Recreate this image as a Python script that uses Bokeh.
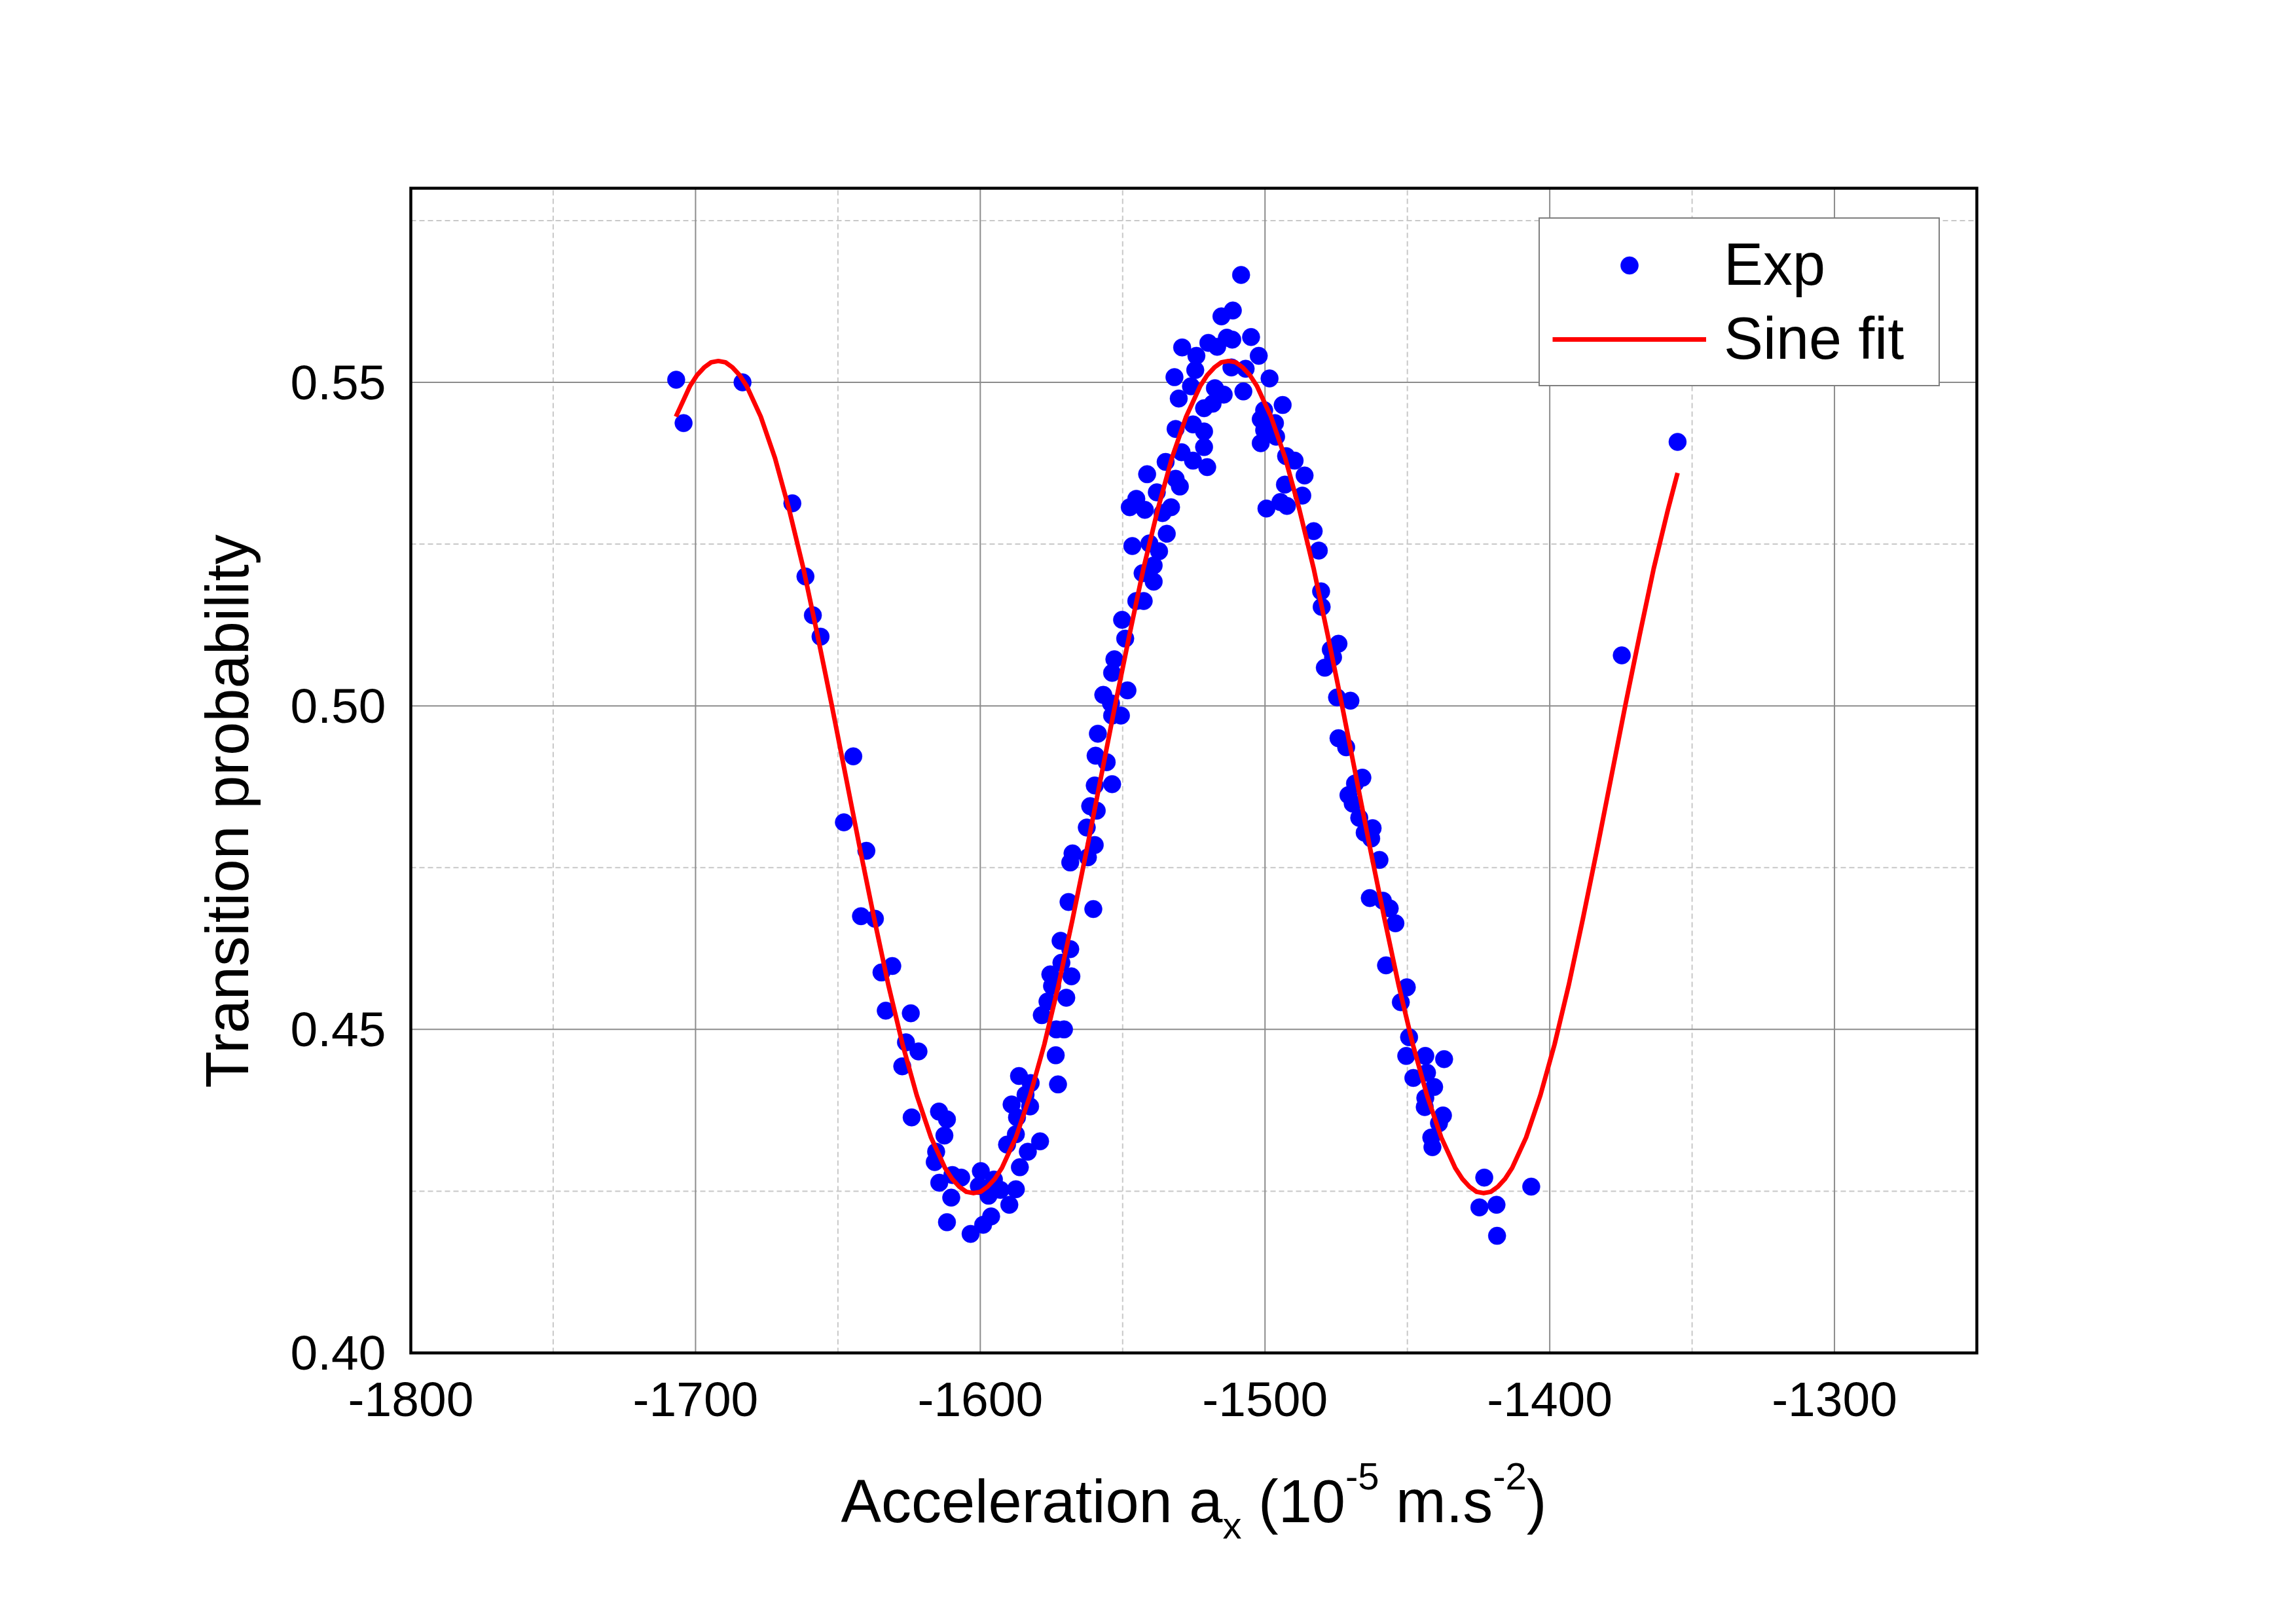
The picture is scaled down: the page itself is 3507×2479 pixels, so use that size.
import math
from bokeh.plotting import figure
from bokeh.models import Range1d, FixedTicker, Label
from bokeh.embed import file_html
from bokeh.resources import INLINE

# ---------------- data ----------------
exp_x = [
    -1706.8, -1704.2, -1683.5, -1666.0, -1661.4, -1658.8, -1656.1, -1644.6, -1647.9, -1640.0,
    -1641.9, -1637.0, -1634.7, -1630.9, -1633.2, -1624.4, -1626.1, -1621.7, -1627.4, -1624.1,
    -1614.5, -1611.7, -1612.6, -1615.5, -1616.0, -1609.8, -1606.7, -1614.4, -1610.2, -1611.7,
    -1603.4, -1599.0, -1596.2, -1599.8, -1600.5, -1597.1, -1595.2, -1592.9, -1589.8, -1587.5,
    -1586.1, -1583.3, -1579.0, -1590.6, -1587.5, -1587.1, -1589.0, -1582.5, -1584.1, -1586.4,
    -1582.3, -1573.5, -1572.7, -1573.3, -1570.6, -1578.4, -1576.4, -1569.8, -1575.4, -1574.8,
    -1568.0, -1571.5, -1568.4, -1571.8, -1569.0, -1568.4, -1567.6, -1562.6, -1560.3, -1562.2,
    -1559.8, -1559.1, -1561.4, -1559.8, -1553.7, -1559.5, -1555.6, -1558.7, -1553.7, -1550.6,
    -1556.8, -1548.3, -1554.1, -1553.7, -1552.9, -1549.1, -1550.2, -1545.2, -1542.6, -1543.0,
    -1539.1, -1539.1, -1546.6, -1540.6, -1537.2, -1534.5, -1547.5, -1545.2, -1542.2, -1538.0,
    -1536.0, -1533.0, -1541.4, -1534.9, -1531.4, -1529.9, -1529.3, -1531.4, -1525.3, -1521.4,
    -1521.4, -1525.3, -1520.3,
    -1508.4, -1511.3, -1515.3, -1529.1, -1519.9, -1513.4, -1511.5, -1504.9, -1502.2, -1524.1,
    -1516.8, -1524.5, -1511.8, -1506.8, -1531.8, -1498.4, -1526.0, -1517.6, -1514.5, -1507.6,
    -1530.3, -1518.4, -1521.4, -1493.8, -1500.3,
    -1501.5, -1496.5, -1500.3, -1496.1, -1501.5, -1492.6, -1489.6, -1486.1, -1493.0, -1486.9,
    -1494.6, -1492.3, -1499.5,
    -1482.9, -1481.1, -1480.3, -1480.1, -1474.2, -1476.9, -1476.1, -1479.0, -1474.7, -1470.0,
    -1474.2, -1471.5, -1465.8, -1468.4, -1470.7, -1469.2, -1466.9, -1462.2, -1465.0, -1462.7,
    -1459.8,
    -1463.2, -1458.6, -1456.2, -1454.2, -1457.5, -1450.2, -1452.3, -1449.4, -1450.4, -1443.7,
    -1437.1, -1443.1, -1447.9, -1440.6, -1443.7, -1443.9, -1437.5, -1438.9, -1441.6, -1441.2,
    -1423.0,
    -1424.7, -1418.7, -1418.5, -1406.5,
    -1355.1, -1374.7,
]
exp_y = [
    0.5504, 0.5437, 0.5500, 0.5313, 0.5200, 0.5140, 0.5107, 0.4922, 0.4820, 0.4776,
    0.4675, 0.4671, 0.4588, 0.4598, 0.4529, 0.4525, 0.4480, 0.4466, 0.4443, 0.4364,
    0.4373, 0.4361, 0.4336, 0.4311, 0.4295, 0.4275, 0.4271, 0.4263, 0.4240, 0.4202,
    0.4184, 0.4198, 0.4211, 0.4281, 0.4258, 0.4243, 0.4268, 0.4252, 0.4229, 0.4253,
    0.4287, 0.4311, 0.4327, 0.4322, 0.4338, 0.4364, 0.4384, 0.4381, 0.4399, 0.4428,
    0.4417, 0.4460, 0.4415, 0.4500, 0.4500, 0.4522, 0.4543, 0.4549, 0.4585, 0.4567,
    0.4582, 0.4603, 0.4624, 0.4637, 0.4697, 0.4758, 0.4772, 0.4812, 0.4686, 0.4766,
    0.4785, 0.4838, 0.4845, 0.4877, 0.4879, 0.4923, 0.4913, 0.4957, 0.4985, 0.4985,
    0.5017, 0.5024, 0.5004, 0.5051, 0.5072, 0.5104, 0.5133, 0.5162, 0.5162, 0.5205,
    0.5192, 0.5217, 0.5247, 0.5251, 0.5239, 0.5266, 0.5307, 0.5320, 0.5303, 0.5330,
    0.5298, 0.5307, 0.5358, 0.5377, 0.5351, 0.5339, 0.5392, 0.5428, 0.5435, 0.5424,
    0.5400, 0.5379, 0.5369,
    0.5666, 0.5611, 0.5602, 0.5554, 0.5561, 0.5569, 0.5566, 0.5570, 0.5541, 0.5541,
    0.5555, 0.5519, 0.5523, 0.5521, 0.5508, 0.5506, 0.5494, 0.5491, 0.5481, 0.5486,
    0.5475, 0.5467, 0.5460, 0.5465, 0.5457,
    0.5443, 0.5437, 0.5426, 0.5416, 0.5406, 0.5386, 0.5379, 0.5356, 0.5342, 0.5325,
    0.5315, 0.5309, 0.5305,
    0.5270, 0.5240, 0.5177, 0.5153, 0.5096, 0.5087, 0.5075, 0.5059, 0.5013, 0.5008,
    0.4950, 0.4936, 0.4889, 0.4880, 0.4862, 0.4849, 0.4827, 0.4811, 0.4804, 0.4795,
    0.4762,
    0.4703, 0.4699, 0.4687, 0.4664, 0.4599, 0.4565, 0.4542, 0.4488, 0.4459, 0.4459,
    0.4454, 0.4433, 0.4425, 0.4411, 0.4394, 0.4380, 0.4367, 0.4355, 0.4333, 0.4318,
    0.4271,
    0.4225, 0.4229, 0.4181, 0.4257,
    0.5408, 0.5078,
]

fit_x = [
    -1706.9, -1702.0, -1699.5, -1697.0, -1694.5, -1692.0, -1689.5, -1687.0, -1684.5, -1682.0,
    -1677.1, -1672.1, -1667.1, -1662.1, -1657.2, -1652.2, -1647.2, -1642.2, -1637.2, -1632.3,
    -1627.3, -1622.3, -1617.3, -1612.4, -1609.9, -1607.4, -1604.9, -1602.4, -1599.9, -1597.4,
    -1594.9, -1592.4, -1587.5, -1582.5, -1577.5, -1572.5, -1567.6, -1562.6, -1557.6, -1552.6,
    -1547.6, -1542.7, -1537.7, -1532.7, -1527.7, -1522.8, -1520.3, -1517.8, -1515.3, -1512.8,
    -1510.3, -1507.8, -1505.3, -1502.8, -1497.9, -1492.9, -1487.9, -1482.9, -1478.0, -1473.0,
    -1468.0, -1463.0, -1458.0, -1453.1, -1448.1, -1443.1, -1438.1, -1433.2, -1430.7, -1428.2,
    -1425.7, -1423.2, -1420.7, -1418.2, -1415.7, -1413.2, -1408.3, -1403.3, -1398.3, -1393.3,
    -1388.4, -1383.4, -1378.4, -1373.4, -1368.4, -1363.5, -1358.5, -1355.1,
]
fit_y = [
    0.5447, 0.5494, 0.5511, 0.5523, 0.5531, 0.5533, 0.5531, 0.5523, 0.5511, 0.5494,
    0.5447, 0.5383, 0.5303, 0.5212, 0.5110, 0.5002, 0.4890, 0.4778, 0.4670, 0.4569,
    0.4477, 0.4398, 0.4333, 0.4286, 0.4269, 0.4257, 0.4249, 0.4247, 0.4249, 0.4257,
    0.4269, 0.4286, 0.4333, 0.4398, 0.4477, 0.4569, 0.4670, 0.4778, 0.4890, 0.5002,
    0.5110, 0.5212, 0.5303, 0.5383, 0.5447, 0.5494, 0.5511, 0.5523, 0.5531, 0.5533,
    0.5531, 0.5523, 0.5511, 0.5494, 0.5447, 0.5383, 0.5303, 0.5212, 0.5110, 0.5002,
    0.4890, 0.4778, 0.4670, 0.4569, 0.4477, 0.4398, 0.4333, 0.4286, 0.4269, 0.4257,
    0.4249, 0.4247, 0.4249, 0.4257, 0.4269, 0.4286, 0.4333, 0.4398, 0.4477, 0.4569,
    0.4670, 0.4778, 0.4890, 0.5002, 0.5110, 0.5212, 0.5303, 0.5360,
]

x_ticks = [-1800, -1700, -1600, -1500, -1400, -1300]
x_tick_labels = ["-1800", "-1700", "-1600", "-1500", "-1400", "-1300"]
x_minor = [-1750, -1650, -1550, -1450, -1350]
y_ticks = [0.40, 0.45, 0.50, 0.55]
y_tick_labels = ["0.40", "0.45", "0.50", "0.55"]
y_minor = [0.425, 0.475, 0.525, 0.575]

x_title_parts = ["Acceleration a", "x", "(10", "-5", "m.s", "-2", ")"]
y_title = "Transition probability"
series_names = ["Exp", "Sine fit"]

# ---------------- geometry ----------------
FONT = "Liberation Sans"
X0, X1 = -1800, -1250          # visible plot box (data)
Y0, Y1 = 0.40, 0.58
W, H = 3500, 2479              # canvas
FL, FR, FT, FB = 230, W, 0, H - 110   # Bokeh frame (canvas px)
BX0, BX1, BY1, BY0 = 627, 3019, 287, 2066   # plot box in canvas px
sx = (BX1 - BX0) / (X1 - X0)
sy = (BY0 - BY1) / (Y1 - Y0)
xr = Range1d(X0 - (BX0 - FL) / sx, X1 + (FR - BX1) / sx)
yr = Range1d(Y0 - (FB - BY0) / sy, Y1 + (BY1 - FT) / sy)

p = figure(width=W, height=H, x_range=xr, y_range=yr,
           min_border_left=FL, min_border_right=0,
           min_border_top=0, min_border_bottom=H - FB,
           output_backend="svg", toolbar_location=None,
           background_fill_color="white", border_fill_color="white")
p.outline_line_color = None
p.xgrid.visible = False
p.ygrid.visible = False

xt = FixedTicker(ticks=x_ticks, minor_ticks=x_minor)
yt = FixedTicker(ticks=y_ticks, minor_ticks=y_minor)
p.xaxis.ticker = xt
p.yaxis.ticker = yt
XLAB_GAP = 45   # px between the box bottom and the x tick labels
p.xaxis.fixed_location = Y0 - XLAB_GAP / sy
p.yaxis.fixed_location = X0
p.xaxis.major_label_overrides = {t: s for t, s in zip(x_ticks, x_tick_labels)}
p.yaxis.major_label_overrides = {t: s for t, s in zip(y_ticks, y_tick_labels)}
for ax in (p.xaxis, p.yaxis):
    ax.axis_line_color = None
    ax.major_tick_line_color = None
    ax.minor_tick_line_color = None
    ax.major_tick_out = 0
    ax.major_tick_in = 0
    ax.minor_tick_out = 0
    ax.minor_tick_in = 0
    ax.major_label_text_font = FONT
    ax.major_label_text_font_size = "75px"
    ax.major_label_text_color = "black"
p.xaxis.major_label_standoff = 0
p.yaxis.major_label_standoff = 38

# grid lines limited to the plot box, at the axis ticks
p.segment(x0=x_minor, y0=[Y0] * len(x_minor), x1=x_minor, y1=[Y1] * len(x_minor),
          line_color="#c8c8c8", line_width=2, line_dash="8 5")
p.segment(x0=[X0] * len(y_minor), y0=y_minor, x1=[X1] * len(y_minor), y1=y_minor,
          line_color="#c8c8c8", line_width=2, line_dash="8 5")
p.segment(x0=x_ticks, y0=[Y0] * len(x_ticks), x1=x_ticks, y1=[Y1] * len(x_ticks),
          line_color="#8c8c8c", line_width=2)
p.segment(x0=[X0] * len(y_ticks), y0=y_ticks, x1=[X1] * len(y_ticks), y1=y_ticks,
          line_color="#8c8c8c", line_width=2)
p.quad(left=[X0], right=[X1], bottom=[Y0], top=[Y1], fill_color=None,
       line_color="black", line_width=4.5, line_join="miter")

p.scatter(exp_x, exp_y, size=27, fill_color="#0000ff", line_color="#0000ff",
          line_width=0.5, legend_label=series_names[0])
p.line(fit_x, fit_y, line_color="#ff0000", line_width=7, line_join="round",
       legend_label=series_names[1])

lg = p.legend[0]
lg.location = (2350 - FL, FB - 590)
lg.margin = 0
lg.padding = 19
lg.spacing = 10
lg.glyph_width = 235
lg.glyph_height = 68
lg.label_standoff = 27
lg.label_width = 309
lg.label_text_font = FONT
lg.label_text_font_size = "90px"
lg.label_text_color = "black"
lg.border_line_color = "black"
lg.border_line_width = 2.5
lg.background_fill_color = "white"
lg.background_fill_alpha = 1.0

# ---------------- axis titles (real text) ----------------
ADV = {'A': .667, 'c': .5, 'e': .556, 'l': .222, 'r': .333, 'a': .556, 't': .278,
       'i': .222, 'o': .556, 'n': .556, ' ': .278, 'x': .5, '(': .333, ')': .333,
       '1': .556, '0': .556, '-': .333, '5': .556, 'm': .833, '.': .278, 's': .5,
       '2': .556}
MAIN, SCRIPT = 92, 58
SUP, SUB = 38, -37      # anchor shifts of the scripts relative to the main text
parts = [
    (x_title_parts[0], MAIN, 0, 0.0),
    (x_title_parts[1], SCRIPT, SUB, 0.0),
    (x_title_parts[2], MAIN, 0, 0.278),
    (x_title_parts[3], SCRIPT, SUP, 0.0),
    (x_title_parts[4], MAIN, 0, 0.278),
    (x_title_parts[5], SCRIPT, SUP, 0.0),
    (x_title_parts[6], MAIN, 0, 0.0),
]


def width(txt, size):
    return sum(ADV.get(ch, 0.556) for ch in txt) * size


total = sum(width(t, s) + sp * MAIN for t, s, _, sp in parts)
xc = (X0 + X1) / 2.0
cur = -total / 2.0
anchor_drop = 2292 - BY0
for t, s, dy, sp in parts:
    cur += sp * MAIN
    p.add_layout(Label(x=xc, y=Y0, x_offset=cur, y_offset=-anchor_drop + dy, text=t,
                       text_font=FONT, text_font_size=f"{s}px", text_color="black",
                       text_align="left", text_baseline="alphabetic"))
    cur += width(t, s)

yc = (Y0 + Y1) / 2.0
p.add_layout(Label(x=X0, y=yc, x_offset=346 - BX0, y_offset=-62, text=y_title,
                   angle=math.pi / 2, text_font=FONT, text_font_size="92px",
                   text_color="black", text_align="center", text_baseline="alphabetic"))

open("out.html", "w").write(file_html(p, INLINE))
